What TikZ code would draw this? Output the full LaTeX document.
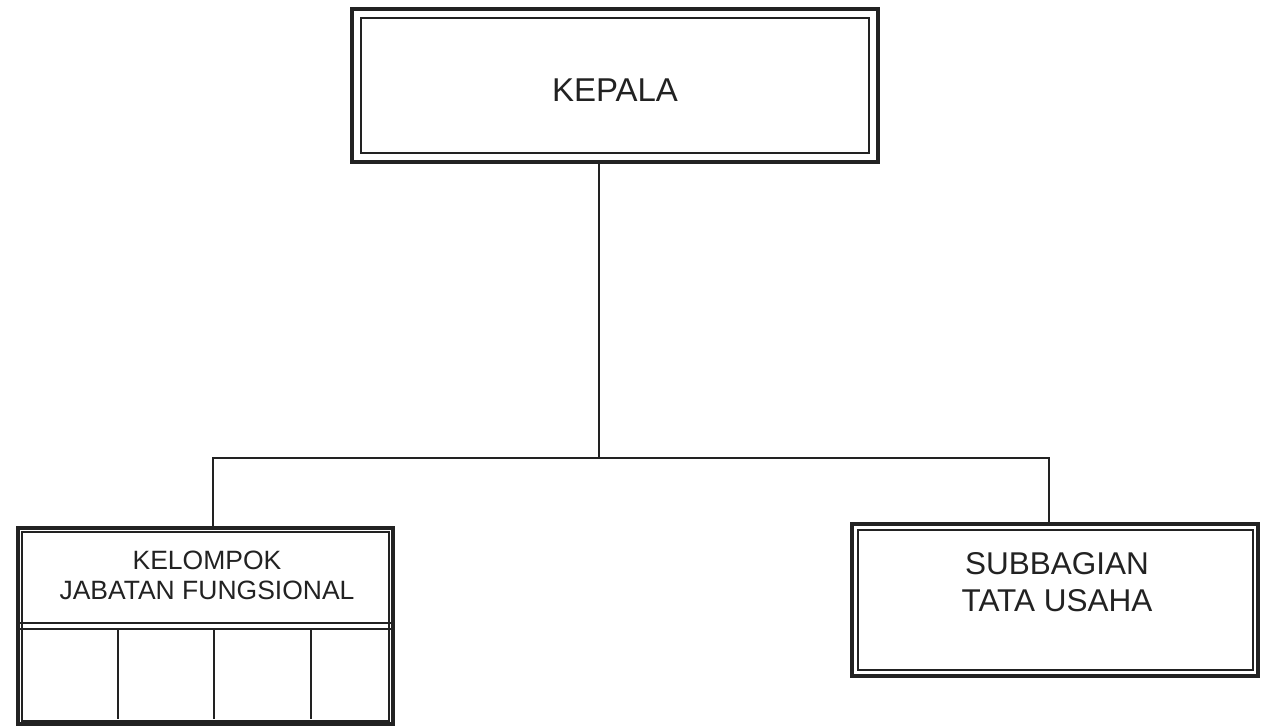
\documentclass[tikz,border=0pt]{standalone}
\usepackage{fontspec}
\setmainfont{Liberation Sans}
\usetikzlibrary{calc}
\definecolor{ink}{HTML}{222222}
\tikzset{
  frame/.style={draw=ink, line width=4pt, inner sep=0pt},
  inframe/.style={draw=ink, line width=2pt},
  conn/.style={draw=ink, line width=1.8pt},
  bigtxt/.style={text=ink, align=center, font=\fontsize{31.5}{37}\selectfont},
  kepatxt/.style={text=ink, align=center, font=\fontsize{33}{37}\selectfont},
  smalltxt/.style={text=ink, align=center, font=\fontsize{26.5}{30}\selectfont},
}
\begin{document}
\begin{tikzpicture}[x=1pt,y=-1pt]
\useasboundingbox (0,0) rectangle (1265,725);
% KEPALA
\node[frame, minimum width=526pt, minimum height=153pt] (kep) at (615,85.5) {};
\draw[inframe] ([xshift=11pt,yshift=-11pt]kep.north west) rectangle ([xshift=-11pt,yshift=11pt]kep.south east);
\node[kepatxt] (kept) at (615,90) {KEPALA};
% KELOMPOK
\node[frame, minimum width=375pt, minimum height=196pt] (kel) at (205.5,626) {};
\draw[inframe] ([xshift=6pt,yshift=-6pt]kel.north west) rectangle ([xshift=-6pt,yshift=5pt]kel.south east);
\coordinate (sepA) at (0,623);
\coordinate (sepB) at (0,628.5);
\draw[inframe] (sepA -| kel.west) -- (sepA -| kel.east);
\draw[inframe] (sepB -| kel.west) -- (sepB -| kel.east);
\foreach \x [count=\i] in {118,214,311}{
  \coordinate (c\i) at (\x,628.5);
  \draw[inframe] (c\i) -- (c\i |- 0,719);
}
\node[smalltxt] (kelt) at (207,575) {KELOMPOK\\JABATAN FUNGSIONAL};
% SUBBAGIAN
\node[frame, minimum width=406pt, minimum height=152pt] (sub) at (1055,600) {};
\draw[inframe] ([xshift=8pt,yshift=-8pt]sub.north west) rectangle ([xshift=-7pt,yshift=8pt]sub.south east);
\node[bigtxt] (subt) at (1057,582) {SUBBAGIAN\\TATA USAHA};
% connectors
\coordinate (j) at (599,458);
\coordinate (jl) at (213,458);
\coordinate (jr) at (1049,458);
\draw[conn] (j |- kep.south) -- (j);
\draw[conn] (jl |- kel.north) -- (jl) -- (jr) -- (jr |- sub.north);
\end{tikzpicture}
\end{document}
